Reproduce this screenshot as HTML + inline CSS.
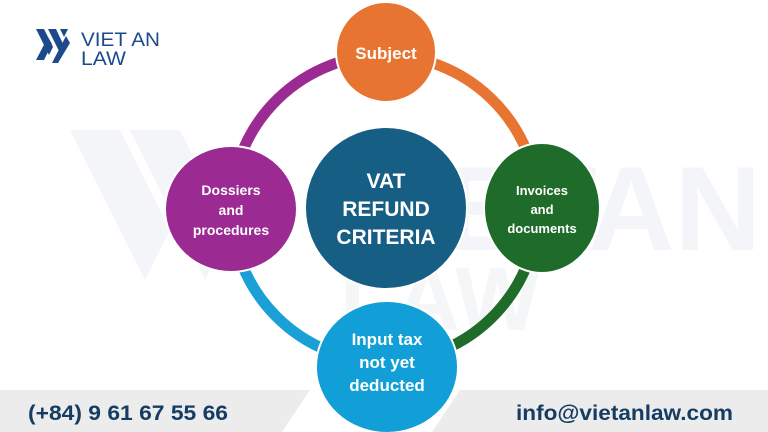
<!DOCTYPE html>
<html><head><meta charset="utf-8"><style>
html,body{margin:0;padding:0;background:#fff;}
svg{display:block;}
text{font-family:"Liberation Sans",sans-serif;font-weight:bold;}
</style></head><body>
<svg width="768" height="432" viewBox="0 0 768 432" xmlns="http://www.w3.org/2000/svg">
<g fill="#f3f5f8">
<polygon points="70,130 120,130 170,230 145,280"/>
<polygon points="130,130 180,130 230,230 205,280"/>
<text x="330" y="250" font-size="120" fill="#f3f5f8">VIETAN</text>
<text x="340" y="330" font-size="90" fill="#f4f6f8">LAW</text>
</g>
<g fill="none" stroke-width="11">
<path d="M386,55 A155,155 0 0 1 538,200" stroke="#e87432"/>
<path d="M538,200 A155,155 0 0 1 386,362" stroke="#1f6b2a"/>
<path d="M386,362 A155,155 0 0 1 231,205" stroke="#1a9fd6"/>
<path d="M231,205 A155,155 0 0 1 386,55" stroke="#9b2a92"/>
</g>
<polygon points="0,390 310,390 282,432 0,432" fill="#ececec"/>
<polygon points="460,390 768,390 768,432 432,432" fill="#ececec"/>
<text x="28" y="420" font-size="21" fill="#153c63" textLength="200" lengthAdjust="spacingAndGlyphs">(+84) 9 61 67 55 66</text>
<text x="516" y="420" font-size="21" fill="#153c63" textLength="217" lengthAdjust="spacingAndGlyphs">info@vietanlaw.com</text>
<circle cx="386" cy="52" r="50" fill="#e87432" stroke="#fff" stroke-width="2"/>
<text x="386" y="59" font-size="17" fill="#fff" text-anchor="middle">Subject</text>
<ellipse cx="231" cy="209" rx="66" ry="63" fill="#9b2a92" stroke="#fff" stroke-width="2"/>
<text x="231" y="195" font-size="14" fill="#fff" text-anchor="middle">Dossiers</text>
<text x="231" y="215" font-size="14" fill="#fff" text-anchor="middle">and</text>
<text x="231" y="235" font-size="14" fill="#fff" text-anchor="middle">procedures</text>
<ellipse cx="542" cy="208" rx="58" ry="65" fill="#1f6b2a" stroke="#fff" stroke-width="2"/>
<text x="542" y="195" font-size="13" fill="#fff" text-anchor="middle">Invoices</text>
<text x="542" y="214" font-size="13" fill="#fff" text-anchor="middle">and</text>
<text x="542" y="233" font-size="13" fill="#fff" text-anchor="middle">documents</text>
<circle cx="386" cy="208" r="81" fill="#175e84" stroke="#fff" stroke-width="2"/>
<text x="386" y="188" font-size="21" fill="#fff" text-anchor="middle">VAT</text>
<text x="386" y="216" font-size="21" fill="#fff" text-anchor="middle">REFUND</text>
<text x="386" y="244" font-size="21" fill="#fff" text-anchor="middle">CRITERIA</text>
<ellipse cx="387" cy="367" rx="71" ry="66" fill="#129ed6" stroke="#fff" stroke-width="2"/>
<text x="387" y="345" font-size="17" fill="#fff" text-anchor="middle">Input tax</text>
<text x="387" y="368" font-size="17" fill="#fff" text-anchor="middle">not yet</text>
<text x="387" y="391" font-size="17" fill="#fff" text-anchor="middle">deducted</text>
<g fill="#1d4a8a">
<polygon points="36,29 44,29 53,47 49,55"/>
<polygon points="36,60 48,37 52,44 44,60"/>
<polygon points="48,29 56,29 64,46 60,53"/>
<polygon points="52,63 66,36 70,43 58,63"/>
<polygon points="60,29 68,29 64,37"/>
</g>
<text x="81" y="46" font-size="19" fill="#1d4a8a" style="font-weight:normal" textLength="79" lengthAdjust="spacingAndGlyphs">VIET AN</text>
<text x="81" y="65" font-size="19" fill="#1d4a8a" style="font-weight:normal" textLength="45" lengthAdjust="spacingAndGlyphs">LAW</text>
</svg>
</body></html>
